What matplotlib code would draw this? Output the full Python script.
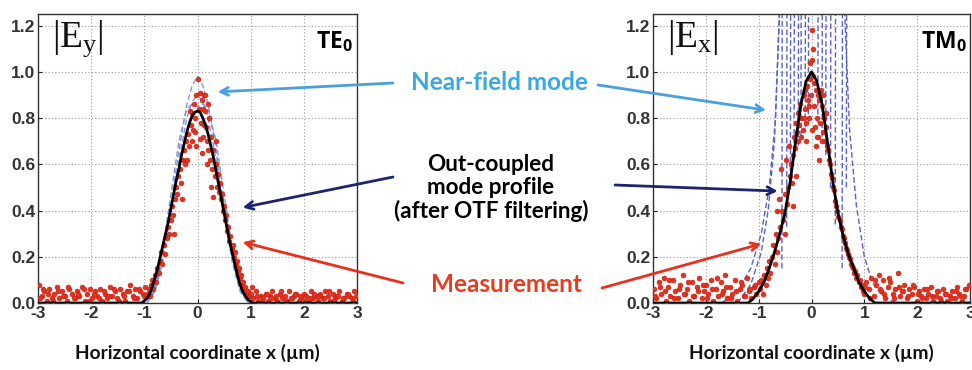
import matplotlib
matplotlib.use("Agg")
import matplotlib.pyplot as plt
import numpy as np

# ---------------- data ----------------
x_ticks = [-3, -2, -1, 0, 1, 2, 3]
y_ticks = [0.0, 0.2, 0.4, 0.6, 0.8, 1.0, 1.2]

# Out-coupled mode profile (after OTF filtering) - TE0
te_fit_x = [-3.0, -1.05, -0.95, -0.9, -0.85, -0.8, -0.75, -0.7, -0.65, -0.6, -0.55, -0.5, -0.45, -0.4, -0.35,
            -0.3, -0.25, -0.2, -0.15, -0.1, -0.05, 0.0, 0.05, 0.1, 0.15, 0.2, 0.25, 0.3, 0.35, 0.4, 0.45,
            0.5, 0.55, 0.6, 0.65, 0.7, 0.75, 0.8, 0.85, 0.9, 0.95, 1.0, 1.05, 3.0]
te_fit_y = [0.0, 0.0, 0.02, 0.04, 0.07, 0.11, 0.15, 0.20, 0.25, 0.30, 0.35, 0.41, 0.47, 0.53, 0.58,
            0.64, 0.69, 0.74, 0.78, 0.81, 0.825, 0.83, 0.825, 0.80, 0.77, 0.73, 0.68, 0.63, 0.57, 0.51, 0.45,
            0.39, 0.33, 0.27, 0.22, 0.17, 0.12, 0.08, 0.05, 0.03, 0.015, 0.005, 0.0, 0.0]

# Near-field mode - TE0 (dashed)
te_nf_x = [-0.95, -0.8, -0.65, -0.5, -0.35, -0.2, -0.1, 0.0, 0.1, 0.2, 0.35, 0.5, 0.65, 0.8, 0.95]
te_nf_y1 = [0.0, 0.06, 0.20, 0.42, 0.66, 0.86, 0.94, 0.98, 0.94, 0.86, 0.66, 0.42, 0.20, 0.06, 0.0]
te_nf_y2 = [0.0, 0.05, 0.18, 0.40, 0.62, 0.80, 0.87, 0.90, 0.87, 0.80, 0.62, 0.40, 0.18, 0.05, 0.0]
te_nf_y3 = [0.0, 0.08, 0.24, 0.47, 0.70, 0.84, 0.86, 0.85, 0.86, 0.84, 0.70, 0.47, 0.24, 0.08, 0.0]

# Measurement - TE0
te_base_l_x = [-2.98, -2.93, -2.88, -2.84, -2.79, -2.74, -2.69, -2.65, -2.6, -2.55, -2.5, -2.46, -2.41, -2.36,
               -2.31, -2.27, -2.22, -2.17, -2.12, -2.08, -2.03, -1.98, -1.93, -1.89, -1.84, -1.79, -1.74, -1.7,
               -1.65, -1.6, -1.55, -1.51, -1.46, -1.41, -1.36, -1.32, -1.27, -1.22, -1.17, -1.13, -1.08, -1.03, -0.98]
te_base_l_y = [0.08, 0.03, 0.05, 0.01, 0.06, 0.02, 0.04, 0.07, 0.02, 0.05, 0.03, 0.01, 0.06, 0.04,
               0.02, 0.05, 0.03, 0.07, 0.01, 0.04, 0.06, 0.02, 0.05, 0.03, 0.06, 0.01, 0.04, 0.02,
               0.07, 0.03, 0.05, 0.02, 0.06, 0.04, 0.01, 0.05, 0.08, 0.03, 0.06, 0.02, 0.05, 0.04, 0.07]
te_base_l2_x = [-2.96, -2.9, -2.81, -2.72, -2.62, -2.53, -2.43, -2.33, -2.24, -2.14, -2.05, -1.95, -1.86, -1.76,
                -1.67, -1.57, -1.48, -1.38, -1.29, -1.19, -1.1, -1.0]
te_base_l2_y = [0.02, 0.06, 0.04, 0.01, 0.05, 0.03, 0.07, 0.02, 0.04, 0.06, 0.01, 0.04, 0.02, 0.05,
                0.03, 0.06, 0.01, 0.03, 0.05, 0.02, 0.06, 0.03]
te_peak_x = [-0.95, -0.92, -0.9, -0.88, -0.85, -0.83, -0.8, -0.78, -0.76, -0.73, -0.7, -0.68, -0.66, -0.63,
             -0.61, -0.58, -0.56, -0.53, -0.5, -0.48, -0.46, -0.43, -0.41, -0.38, -0.36, -0.33, -0.31, -0.28,
             -0.26, -0.23, -0.21, -0.18, -0.16, -0.13, -0.11, -0.08, -0.06, -0.04, -0.02, 0.0, 0.02, 0.04,
             0.06, 0.08, 0.1, 0.12, 0.14, 0.16, 0.18, 0.2, 0.22, 0.24, 0.26, 0.28, 0.3, 0.32, 0.34, 0.36,
             0.38, 0.4, 0.42, 0.44, 0.46, 0.48, 0.5, 0.52, 0.54, 0.56, 0.58, 0.6, 0.62, 0.64, 0.66, 0.68,
             0.7, 0.72, 0.74, 0.76, 0.78, 0.8, 0.82, 0.84, 0.86, 0.88, 0.9, 0.92, 0.95, 0.98,
             -0.1, -0.05, 0.05, 0.1, 0.15, 0.2, -0.15, 0.08, 0.25, -0.2, 0.18, -0.02, 0.12, -0.3, -0.45, 0.3, 0.35]
te_peak_y = [0.04, 0.06, 0.03, 0.08, 0.10, 0.06, 0.12, 0.09, 0.15, 0.13, 0.18, 0.22, 0.17, 0.25,
             0.21, 0.28, 0.33, 0.30, 0.36, 0.42, 0.38, 0.45, 0.50, 0.47, 0.55, 0.58, 0.52, 0.62,
             0.66, 0.60, 0.70, 0.73, 0.68, 0.77, 0.82, 0.75, 0.86, 0.80, 0.90, 0.97, 0.84, 0.91,
             0.78, 0.88, 0.72, 0.90, 0.83, 0.76, 0.70, 0.66, 0.80, 0.62, 0.72, 0.58, 0.66, 0.55, 0.60, 0.50,
             0.56, 0.48, 0.52, 0.45, 0.47, 0.40, 0.42, 0.36, 0.38, 0.31, 0.33, 0.27, 0.29, 0.24, 0.25, 0.20,
             0.22, 0.17, 0.18, 0.14, 0.15, 0.11, 0.12, 0.08, 0.09, 0.06, 0.07, 0.04, 0.05, 0.03,
             0.70, 0.74, 0.71, 0.84, 0.90, 0.86, 0.83, 0.65, 0.50, 0.62, 0.60, 0.68, 0.77, 0.45, 0.30, 0.46, 0.70]
te_base_r_x = [1.01, 1.05, 1.1, 1.14, 1.19, 1.23, 1.28, 1.32, 1.37, 1.41, 1.46, 1.5, 1.55, 1.59, 1.64, 1.68,
               1.73, 1.77, 1.82, 1.86, 1.91, 1.95, 2.0, 2.04, 2.09, 2.13, 2.18, 2.22, 2.27, 2.31, 2.36, 2.4,
               2.45, 2.49, 2.54, 2.58, 2.63, 2.67, 2.72, 2.76, 2.81, 2.85, 2.9, 2.94, 2.99]
te_base_r_y = [0.04, 0.02, 0.05, 0.01, 0.03, 0.02, 0.04, 0.01, 0.03, 0.05, 0.02, 0.01, 0.04, 0.02, 0.03, 0.01,
               0.05, 0.02, 0.03, 0.04, 0.01, 0.02, 0.04, 0.03, 0.01, 0.05, 0.02, 0.03, 0.01, 0.04, 0.02, 0.05,
               0.03, 0.01, 0.04, 0.02, 0.03, 0.05, 0.01, 0.02, 0.04, 0.03, 0.02, 0.05, 0.03]
te_base_r2_x = [1.03, 1.12, 1.21, 1.3, 1.39, 1.48, 1.57, 1.66, 1.75, 1.84, 1.93, 2.02, 2.11, 2.2, 2.29, 2.38,
                2.47, 2.56, 2.65, 2.74, 2.83, 2.92]
te_base_r2_y = [0.07, 0.03, 0.01, 0.04, 0.02, 0.03, 0.05, 0.01, 0.02, 0.04, 0.03, 0.01, 0.02, 0.04, 0.03, 0.02,
                0.05, 0.01, 0.03, 0.02, 0.04, 0.01]

# Out-coupled mode profile - TM0
tm_fit_x = [-3.0, -1.2, -1.1, -1.0, -0.9, -0.8, -0.7, -0.6, -0.5, -0.4, -0.3, -0.2, -0.1, 0.0,
            0.1, 0.2, 0.3, 0.4, 0.5, 0.6, 0.7, 0.8, 0.9, 1.0, 1.1, 1.2, 3.0]
tm_fit_y = [0.0, 0.0, 0.02, 0.05, 0.09, 0.15, 0.22, 0.30, 0.39, 0.53, 0.70, 0.86, 0.96, 1.0,
            0.96, 0.86, 0.70, 0.53, 0.39, 0.29, 0.21, 0.15, 0.09, 0.05, 0.02, 0.0, 0.0]

# Near-field mode - TM0 (dashed, run off the top of the axes)
tm_nf_x = [[-1.7, -1.4, -1.15, -0.95, -0.8, -0.68, -0.6],
           [-1.4, -1.15, -0.95, -0.82, -0.7, -0.6],
           [-0.56, -0.555], [-0.47, -0.465], [-0.4, -0.395], [-0.33, -0.325], [-0.25, -0.245],
           [-0.2, -0.195], [-0.12, -0.115], [-0.06, -0.055],
           [0.12, 0.125], [0.2, 0.205], [0.27, 0.275], [0.36, 0.365], [0.45, 0.455], [0.58, 0.585],
           [0.66, 0.665],
           [0.62, 0.72, 0.85, 1.0, 1.15, 1.35, 1.6]]
tm_nf_y = [[0.0, 0.05, 0.15, 0.3, 0.5, 0.8, 1.3],
           [0.0, 0.08, 0.22, 0.4, 0.7, 1.3],
           [0.15, 1.3], [0.33, 1.3], [0.5, 1.3], [0.62, 1.3], [0.68, 1.3],
           [0.72, 1.3], [0.76, 1.3], [0.78, 1.3],
           [0.78, 1.3], [0.72, 1.3], [0.64, 1.3], [0.5, 1.3], [0.34, 1.3], [0.15, 1.3],
           [0.5, 1.3],
           [1.3, 0.75, 0.42, 0.2, 0.09, 0.03, 0.0]]

# Measurement - TM0
tm_base_l_x = [-2.98, -2.94, -2.89, -2.85, -2.8, -2.76, -2.71, -2.67, -2.62, -2.58, -2.53, -2.49, -2.44, -2.4,
               -2.35, -2.31, -2.26, -2.22, -2.17, -2.13, -2.08, -2.04, -1.99, -1.95, -1.9, -1.86, -1.81, -1.77,
               -1.72, -1.68, -1.63, -1.59, -1.54, -1.5, -1.45, -1.41, -1.36, -1.32, -1.27, -1.23, -1.18, -1.14,
               -1.09, -1.05, -1.0]
tm_base_l_y = [0.06, 0.02, 0.09, 0.04, 0.11, 0.01, 0.07, 0.03, 0.10, 0.05, 0.02, 0.08, 0.12, 0.04,
               0.06, 0.01, 0.09, 0.03, 0.07, 0.11, 0.02, 0.05, 0.08, 0.04, 0.10, 0.01, 0.06, 0.03,
               0.09, 0.05, 0.12, 0.02, 0.07, 0.04, 0.10, 0.01, 0.06, 0.08, 0.03, 0.11, 0.05, 0.02,
               0.07, 0.04, 0.09]
tm_base_l2_x = [-2.96, -2.87, -2.78, -2.69, -2.6, -2.51, -2.42, -2.33, -2.24, -2.15, -2.06, -1.97, -1.88, -1.79,
                -1.7, -1.61, -1.52, -1.43, -1.34, -1.25, -1.16, -1.07]
tm_base_l2_y = [0.03, 0.07, 0.05, 0.10, 0.02, 0.06, 0.04, 0.09, 0.03, 0.05, 0.08, 0.02, 0.06, 0.11,
                0.04, 0.07, 0.02, 0.05, 0.09, 0.03, 0.06, 0.08]
tm_peak_x = [-0.98, -0.95, -0.92, -0.9, -0.87, -0.85, -0.82, -0.8, -0.78, -0.75, -0.73, -0.7, -0.68, -0.66,
             -0.63, -0.61, -0.59, -0.57, -0.55, -0.53, -0.51, -0.49, -0.47, -0.45, -0.43, -0.41, -0.39, -0.37,
             -0.35, -0.33, -0.31, -0.29, -0.27, -0.25, -0.23, -0.21, -0.19, -0.17, -0.15, -0.13, -0.11, -0.09,
             -0.07, -0.05, -0.03, -0.01, 0.0, 0.01, 0.03, 0.05, 0.07, 0.09, 0.11, 0.13, 0.15, 0.17, 0.19, 0.21,
             0.23, 0.25, 0.27, 0.29, 0.31, 0.33, 0.35, 0.37, 0.39, 0.41, 0.43, 0.45, 0.47, 0.49, 0.51, 0.53,
             0.55, 0.57, 0.59, 0.61, 0.63, 0.65, 0.67, 0.69, 0.71, 0.73, 0.75, 0.77, 0.79, 0.81, 0.83, 0.85,
             0.87, 0.89, 0.91, 0.93, 0.95, 0.97,
             -0.2, -0.1, 0.0, 0.1, 0.2, -0.05, 0.05, 0.12, -0.15, 0.02, -0.02, 0.08, -0.25, 0.18, 0.22,
             -0.12, 0.28, -0.5, -0.65, -0.3, 0.15, -0.35]
tm_peak_y = [0.06, 0.10, 0.04, 0.12, 0.08, 0.15, 0.11, 0.18, 0.13, 0.20, 0.25, 0.17, 0.30, 0.22,
             0.28, 0.45, 0.33, 0.58, 0.40, 0.36, 0.47, 0.62, 0.43, 0.50, 0.68, 0.55, 0.60, 0.52,
             0.64, 0.72, 0.67, 0.78, 0.74, 0.82, 0.77, 0.86, 0.80, 0.75, 0.90, 0.84, 0.78, 0.94,
             0.88, 0.80, 0.97, 0.90, 1.18, 1.05, 0.98, 0.85, 0.76, 0.92, 0.80, 0.72, 0.88, 0.78, 0.85, 0.74,
             0.80, 0.70, 0.76, 0.68, 0.66, 0.62, 0.60, 0.56, 0.54, 0.50, 0.49, 0.44, 0.42, 0.40, 0.37, 0.36,
             0.33, 0.32, 0.29, 0.28, 0.26, 0.24, 0.23, 0.21, 0.20, 0.19, 0.17, 0.16, 0.15, 0.13, 0.14, 0.11,
             0.12, 0.09, 0.10, 0.07, 0.08, 0.05,
             0.72, 0.70, 0.75, 0.72, 0.70, 0.85, 0.95, 0.90, 0.80, 1.10, 1.04, 0.68, 0.70, 0.92, 0.90,
             0.92, 0.82, 0.30, 0.40, 0.55, 0.62, 0.42]
tm_base_r_x = [1.0, 1.04, 1.09, 1.13, 1.18, 1.22, 1.27, 1.31, 1.36, 1.4, 1.45, 1.49, 1.54, 1.58, 1.63, 1.67,
               1.72, 1.76, 1.81, 1.85, 1.9, 1.94, 1.99, 2.03, 2.08, 2.12, 2.17, 2.21, 2.26, 2.3, 2.35, 2.39,
               2.44, 2.48, 2.53, 2.57, 2.62, 2.66, 2.71, 2.75, 2.8, 2.84, 2.89, 2.93, 2.98]
tm_base_r_y = [0.04, 0.09, 0.06, 0.11, 0.03, 0.08, 0.12, 0.05, 0.10, 0.02, 0.07, 0.09, 0.04, 0.06, 0.13, 0.03,
               0.05, 0.08, 0.02, 0.06, 0.04, 0.07, 0.01, 0.05, 0.03, 0.06, 0.02, 0.04, 0.07, 0.01, 0.03, 0.05,
               0.02, 0.06, 0.04, 0.01, 0.03, 0.05, 0.02, 0.07, 0.04, 0.01, 0.03, 0.06, 0.08]
tm_base_r2_x = [1.02, 1.11, 1.2, 1.29, 1.38, 1.47, 1.56, 1.65, 1.74, 1.83, 1.92, 2.01, 2.1, 2.19, 2.28, 2.37,
                2.46, 2.55, 2.64, 2.73, 2.82, 2.91]
tm_base_r2_y = [0.07, 0.02, 0.10, 0.06, 0.04, 0.11, 0.02, 0.07, 0.05, 0.03, 0.08, 0.04, 0.02, 0.06, 0.03, 0.05,
                0.01, 0.04, 0.02, 0.05, 0.03, 0.06]

# ---------------- style ----------------
plt.rcParams['mathtext.fontset'] = 'custom'
plt.rcParams['mathtext.rm'] = 'Liberation Serif'
plt.rcParams['mathtext.it'] = 'Liberation Serif'
plt.rcParams['mathtext.bf'] = 'Open Sans:bold'

TICK_FONT = ['Liberation Sans Narrow', 'Liberation Sans', 'DejaVu Sans']
LABEL_FONT = ['Lato', 'DejaVu Sans']

C_RED = '#e8301c'
C_LIGHTBLUE = '#4aa0dc'
C_NAVY = '#1c2470'

W, H = 972, 370
fig = plt.figure(figsize=(W / 100, H / 100), dpi=100)
fig.patch.set_facecolor('white')

ax_te = fig.add_axes([38 / W, 1 - 303 / H, 319 / W, 289 / H])
ax_tm = fig.add_axes([653 / W, 1 - 303 / H, 317 / W, 289 / H])


def style_axes(ax):
    ax.set_xlim(-3, 3)
    ax.set_ylim(0, 1.25)
    ax.set_xticks(x_ticks)
    ax.set_yticks(y_ticks)
    ax.set_xticklabels([str(v) for v in x_ticks])
    ax.set_yticklabels([f"{v:.1f}" for v in y_ticks])
    ax.grid(True, linestyle=(0, (1, 2)), color='#9a9a9a', linewidth=0.8)
    ax.set_axisbelow(True)
    ax.tick_params(direction='in', length=3, width=0.8, pad=2, colors='#222222', labelsize=12.5)
    for lab in ax.get_xticklabels() + ax.get_yticklabels():
        lab.set_fontfamily(TICK_FONT)
        lab.set_fontweight('bold')
        lab.set_color('#333333')
    for s in ax.spines.values():
        s.set_color('#333333')
        s.set_linewidth(1.0)
    ax.set_xlabel('Horizontal coordinate x (µm)', fontsize=13.8, family=LABEL_FONT,
                  fontweight='bold', labelpad=17, color='#111111')


style_axes(ax_te)
style_axes(ax_tm)

meas_kw = dict(s=13, c=C_RED, edgecolors='#b31a10', linewidths=0.3, zorder=3)

# TE0 panel
for yy in (te_nf_y1, te_nf_y2, te_nf_y3):
    ax_te.plot(te_nf_x, yy, linestyle=(0, (4, 2)), color='#8796dc', linewidth=1.0, zorder=2)
for bx, by in ((te_base_l_x, te_base_l_y), (te_base_l2_x, te_base_l2_y), (te_peak_x, te_peak_y),
               (te_base_r_x, te_base_r_y), (te_base_r2_x, te_base_r2_y)):
    ax_te.scatter(bx, by, **meas_kw)
ax_te.plot(te_fit_x, te_fit_y, color='black', linewidth=2.0, zorder=4)

# TM0 panel
for nx, ny in zip(tm_nf_x, tm_nf_y):
    ax_tm.plot(nx, ny, linestyle=(0, (4, 2)), color='#5a63c4', linewidth=1.0, zorder=2)
for bx, by in ((tm_base_l_x, tm_base_l_y), (tm_base_l2_x, tm_base_l2_y), (tm_peak_x, tm_peak_y),
               (tm_base_r_x, tm_base_r_y), (tm_base_r2_x, tm_base_r2_y)):
    ax_tm.scatter(bx, by, **meas_kw)
ax_tm.plot(tm_fit_x, tm_fit_y, color='black', linewidth=2.0, zorder=4)

# panel labels
ax_te.text(0.045, 0.985, r'$\mathrm{|E_y|}$', transform=ax_te.transAxes, fontsize=27,
           va='top', ha='left', color='#111111')
ax_tm.text(0.045, 0.985, r'$\mathrm{|E_x|}$', transform=ax_tm.transAxes, fontsize=27,
           va='top', ha='left', color='#111111')
ax_te.text(0.988, 0.905, r'$\mathbf{TE_0}$', transform=ax_te.transAxes, fontsize=16.5,
           va='center', ha='right', color='black')
ax_tm.text(0.988, 0.905, r'$\mathbf{TM_0}$', transform=ax_tm.transAxes, fontsize=16.5,
           va='center', ha='right', color='black')

# middle annotations
fig.text(499 / W, 1 - 83 / H, 'Near-field mode', color='#3aa9df', fontsize=17.5,
         family=LABEL_FONT, fontweight='bold', ha='center', va='center')
fig.text(491 / W, 1 - 188 / H, 'Out-coupled\nmode profile\n(after OTF filtering)', color='black',
         fontsize=16.2, family=LABEL_FONT, fontweight='bold', ha='center', va='center', linespacing=1.12)
fig.text(506 / W, 1 - 284 / H, 'Measurement', color='#ea3b1e', fontsize=17.5,
         family=LABEL_FONT, fontweight='bold', ha='center', va='center')


def arrow(ax, xy, start, color):
    ax.annotate('', xy=xy, xycoords='data', xytext=(start[0] / W, 1 - start[1] / H),
                textcoords='figure fraction',
                arrowprops=dict(arrowstyle='->,head_length=0.55,head_width=0.28', color=color,
                                lw=2.0, shrinkA=0, shrinkB=0), annotation_clip=False, zorder=6)


arrow(ax_te, (0.38, 0.913), (393, 83), C_LIGHTBLUE)
arrow(ax_tm, (-0.86, 0.834), (598, 85), C_LIGHTBLUE)
arrow(ax_te, (0.85, 0.413), (393, 177), C_NAVY)
arrow(ax_tm, (-0.64, 0.484), (615, 185), C_NAVY)
arrow(ax_te, (0.85, 0.263), (403, 283), C_RED)
arrow(ax_tm, (-0.95, 0.256), (602, 288), C_RED)

fig.savefig('out.png', dpi=100, facecolor='white')
